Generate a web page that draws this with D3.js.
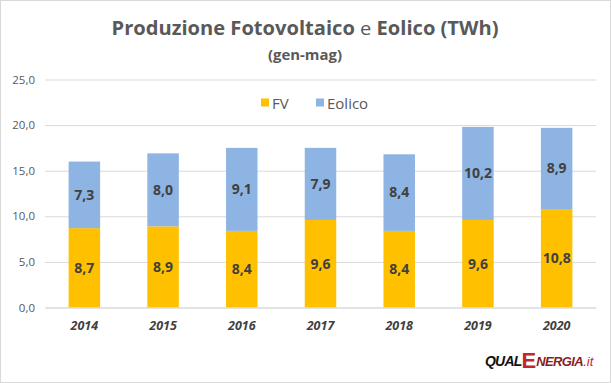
<!DOCTYPE html>
<html><head><meta charset="utf-8">
<script src="https://cdn.jsdelivr.net/npm/d3@7/dist/d3.min.js"></script>
<style>body{margin:0;background:#fff}svg{display:block}</style>
</head><body>
<svg id="c" width="611" height="383"></svg>
<script>
const years = ["2014","2015","2016","2017","2018","2019","2020"];
const fv = [8.7, 8.9, 8.4, 9.6, 8.4, 9.6, 10.8];
const eolico = [7.3, 8.0, 9.1, 7.9, 8.4, 10.2, 8.9];
const yTicks = [0, 5, 10, 15, 20, 25];
const seriesNames = ["FV", "Eolico"];
const colors = ["#FFC000", "#8EB4E3"];

const svg = d3.select("#c");
const W = 611, H = 383;
const font = "'Open Sans', 'Noto Sans', sans-serif";
svg.append("rect").attr("x",0.5).attr("y",0.5).attr("width",W-1).attr("height",H-1)
  .attr("fill","#fff").attr("stroke","#d9d9d9");

const x = d3.scaleBand().domain(years).range([45, 596]).paddingInner(0.6).paddingOuter(0.3);
const y = d3.scaleLinear().domain([0, 25]).range([307.5, 79.5]);

// grid
const yAxis = d3.axisLeft(y).tickValues(yTicks).tickSize(-(596-45))
  .tickFormat(d => d3.format(".1f")(d).replace(".", ","));
const gy = svg.append("g").attr("transform","translate(45,0)").call(yAxis);
gy.select(".domain").remove();
gy.selectAll(".tick line").attr("stroke","#d9d9d9");
gy.selectAll(".tick text").attr("x",-10).attr("fill","#595959")
  .style("font-family",font).style("font-size","11.5px");

// stacks
const data = years.map((yr,i)=>({year:yr, FV:fv[i], Eolico:eolico[i]}));
const stack = d3.stack().keys(seriesNames)(data);
const layers = svg.selectAll("g.layer").data(stack).enter().append("g")
  .attr("fill",(d,i)=>colors[i]);
layers.selectAll("rect").data(d=>d).enter().append("rect")
  .attr("x",d=>x(d.data.year)).attr("width",x.bandwidth())
  .attr("y",d=>y(d[1])).attr("height",d=>y(d[0])-y(d[1]));
layers.selectAll("text").data(d=>d).enter().append("text")
  .attr("x",d=>x(d.data.year)+x.bandwidth()/2)
  .attr("y",d=>(y(d[0])+y(d[1]))/2)
  .attr("dy","0.35em").attr("text-anchor","middle")
  .attr("fill","#404040").style("font-family",font).style("font-weight","bold")
  .style("font-size","14px")
  .text(d=>d3.format(".1f")(d[1]-d[0]).replace(".", ","));

// x axis labels
const xAxis = d3.axisBottom(x).tickSize(0);
const gx = svg.append("g").attr("transform","translate(0,307.5)").call(xAxis);
gx.select(".domain").attr("stroke","#d9d9d9");
gx.selectAll(".tick text").attr("y",14).attr("dy","0.71em").attr("fill","#404040")
  .style("font-family",font).style("font-size","12.5px").style("font-weight","bold")
  .style("font-style","italic");

// title
const t = svg.append("text").attr("x",305).attr("y",35).attr("text-anchor","middle")
  .attr("fill","#595959").style("font-family",font).style("font-size","19px")
  .attr("textLength",387).attr("lengthAdjust","spacingAndGlyphs");
t.append("tspan").style("font-weight","bold").text("Produzione Fotovoltaico ");
t.append("tspan").style("font-weight","normal").text("e ");
t.append("tspan").style("font-weight","bold").text("Eolico (TWh)");
svg.append("text").attr("x",305).attr("y",60).attr("text-anchor","middle")
  .attr("fill","#595959").style("font-family",font).style("font-size","13.5px")
  .style("font-weight","bold").attr("textLength",74).attr("lengthAdjust","spacingAndGlyphs")
  .text("(gen-mag)");

// legend
const legX = [261, 316];
seriesNames.forEach((n,i)=>{
  svg.append("rect").attr("x",legX[i]).attr("y",98.5).attr("width",8).attr("height",8).attr("fill",colors[i]);
  svg.append("text").attr("x",legX[i]+11).attr("y",108.5).attr("fill","#595959")
    .style("font-family",font).style("font-size","15px").text(n);
});

// logo
const logo = svg.append("text").attr("x",485).attr("y",366)
  .style("font-family","'Liberation Sans', Arial, sans-serif").style("font-weight","bold")
  .style("font-style","italic");
logo.append("tspan").attr("fill","#111").style("font-size","14px").attr("letter-spacing","-0.8").text("QUAL");
logo.append("tspan").attr("fill","#c1272d").style("font-size","22px").attr("dy",2).attr("font-style","normal").text("E");
logo.append("tspan").attr("fill","#8b1c22").style("font-size","13px").attr("dy",-2).attr("letter-spacing","-0.6").text("NERGIA");
logo.append("tspan").attr("fill","#c1272d").style("font-size","13px").style("font-weight","normal").text(".it");
</script>
</body></html>
